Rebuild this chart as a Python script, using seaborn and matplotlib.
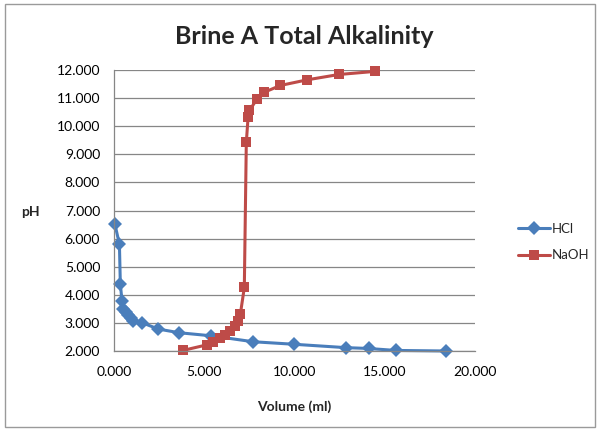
import matplotlib
matplotlib.use("Agg")
import matplotlib.pyplot as plt
import seaborn as sns
import pandas as pd
from matplotlib.patches import Rectangle

# ---- data ----
hcl_volume = [0.05, 0.30, 0.35, 0.44, 0.52, 0.67, 0.80, 0.96, 1.07, 1.54, 2.46,
              3.61, 5.40, 7.70, 9.96, 12.83, 14.10, 15.60, 18.40]
hcl_ph = [6.51, 5.80, 4.40, 3.79, 3.49, 3.40, 3.28, 3.16, 3.08, 3.01, 2.78,
          2.65, 2.54, 2.33, 2.24, 2.12, 2.09, 2.02, 2.00]

naoh_volume = [3.82, 5.15, 5.50, 5.85, 6.17, 6.44, 6.68, 6.87, 7.00, 7.22,
               7.33, 7.43, 7.50, 7.93, 8.33, 9.22, 10.70, 12.46, 14.46]
naoh_ph = [2.02, 2.22, 2.33, 2.45, 2.58, 2.72, 2.88, 3.05, 3.31, 4.26,
           9.42, 10.33, 10.56, 10.97, 11.21, 11.45, 11.65, 11.84, 11.95]

series_names = ["HCl", "NaOH"]
title_text = "Brine A Total Alkalinity"
x_label = "Volume (ml)"
y_label = "pH"
x_ticks = [0, 5, 10, 15, 20]
y_ticks = [2, 3, 4, 5, 6, 7, 8, 9, 10, 11, 12]

df = pd.concat([
    pd.DataFrame({"Volume": hcl_volume, "pH": hcl_ph, "series": series_names[0]}),
    pd.DataFrame({"Volume": naoh_volume, "pH": naoh_ph, "series": series_names[1]}),
], ignore_index=True)

sns.set_theme(style="white")
plt.rcParams["font.family"] = ["Lato", "DejaVu Sans"]

blue = "#4A7EBB"
red = "#BE4B48"
grid_col = "#868686"

fig = plt.figure(figsize=(6.0, 4.3), dpi=100)
fig.patch.set_facecolor("white")
fig.patches.append(Rectangle((0.008, 0.008), 0.984, 0.982, transform=fig.transFigure,
                             fill=False, edgecolor="#9a9a9a", linewidth=1.0))

ax = fig.add_axes([114 / 600, 1 - 351 / 430, (475 - 114) / 600, (351 - 70) / 430])

sns.lineplot(data=df, x="Volume", y="pH", hue="series", style="series",
             markers={"HCl": "D", "NaOH": "s"}, dashes=False, sort=False,
             palette={"HCl": blue, "NaOH": red}, ax=ax, linewidth=2.2,
             markersize=7.5, markeredgewidth=0, legend=True)
for ln in ax.lines:
    ln.set_clip_on(False)
    if ln.get_marker() == "D":
        ln.set_markersize(7)

ax.set_xlim(0, 20)
ax.set_ylim(2, 12)
ax.set_xticks(x_ticks)
ax.set_yticks(y_ticks)
ax.set_xticklabels([f"{v:.3f}" for v in x_ticks], fontsize=10)
ax.set_yticklabels([f"{v:.3f}" for v in y_ticks], fontsize=10)
ax.yaxis.grid(True, color=grid_col, linewidth=0.9)
ax.xaxis.grid(False)
ax.set_axisbelow(True)
for s in ["top", "right"]:
    ax.spines[s].set_visible(False)
for s in ["left", "bottom"]:
    ax.spines[s].set_color(grid_col)
    ax.spines[s].set_linewidth(0.9)
ax.tick_params(axis="both", which="major", direction="out", length=5, width=0.9,
               color=grid_col, labelcolor="black")
ax.tick_params(axis="x", pad=6)
ax.tick_params(axis="y", pad=5)

ax.set_xlabel(x_label, fontsize=10, fontweight="bold", labelpad=16)
ax.set_ylabel("")
fig.text(30 / 600, 1 - 212 / 430, y_label, fontsize=10, fontweight="bold",
         ha="center", va="center")
fig.text(304 / 600, 1 - 36 / 430, title_text, fontsize=18, fontweight="bold",
         ha="center", va="center")

handles, labels = ax.get_legend_handles_labels()
ax.legend(handles=handles, labels=labels, frameon=False, fontsize=9.5,
          loc="center left", bbox_to_anchor=(506 / 600, 1 - 242 / 430),
          bbox_transform=fig.transFigure, handlelength=2.4, handletextpad=0.15,
          labelspacing=1.1)

fig.savefig("out.png", dpi=100, facecolor="white")
